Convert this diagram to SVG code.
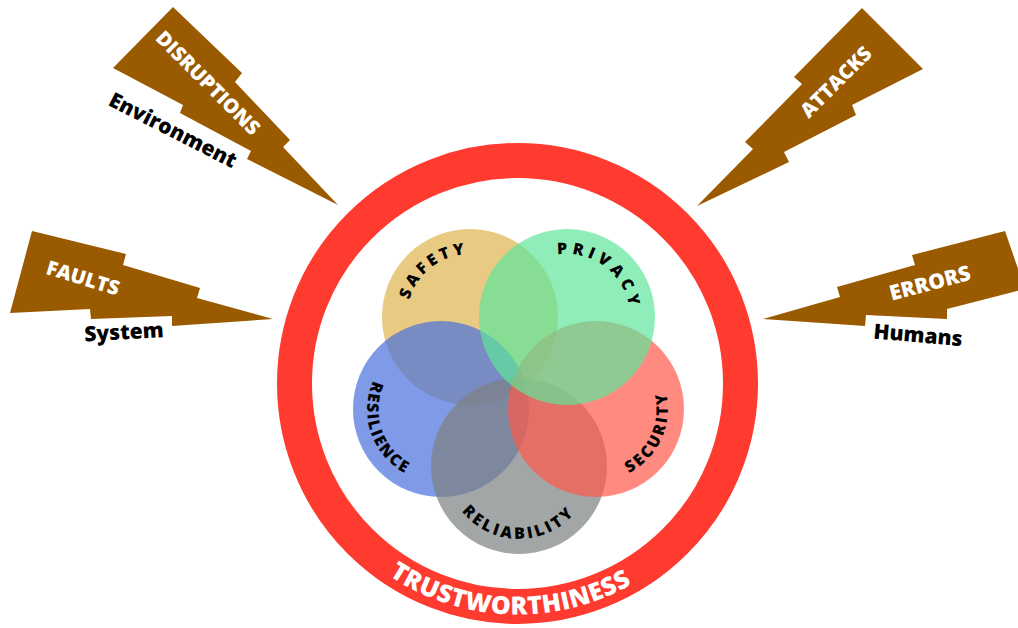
<svg xmlns="http://www.w3.org/2000/svg" width="1018" height="628" viewBox="0 0 1018 628">
<style>
.bolt{fill:#9A5A00}
.wt{fill:#FFFFFF;font-family:"Open Sans","Liberation Sans",sans-serif;font-weight:800;text-anchor:middle}
.bt{fill:#000000;font-family:"Open Sans","Liberation Sans",sans-serif;font-weight:800;text-anchor:middle}
.lbl{fill:#000000;font-family:"Open Sans","Liberation Sans",sans-serif;font-weight:800;font-size:16px;text-anchor:middle}
.venn{opacity:0.7}
</style>
<defs>
<path id="pSafety" d="M 407.6 325.8 A 63 63 0 0 1 493.6 258.6"/>
<path id="pPrivacy" d="M 542.9 258.8 A 63 63 0 0 1 629.5 325.2"/>
<path id="pResilience" d="M 385.5 361.6 A 72 72 0 0 0 427.7 480.8"/>
<path id="pSecurity" d="M 603.5 480.6 A 72 72 0 0 0 654.2 366.7"/>
<path id="pReliability" d="M 455.5 501.9 A 73 73 0 0 0 581.9 503.0"/>
<path id="pTrust" d="M 340.5 532 A 231 231 0 0 0 683.7 544"/>
</defs>
<rect width="1018" height="628" fill="#FFFFFF"/>

<g id="ring">
<circle cx="517.5" cy="383.5" r="223" fill="none" stroke="#FF3A2F" stroke-width="35"/>
<text class="wt" font-size="25" letter-spacing="0.5"><textPath href="#pTrust" startOffset="50%">TRUSTWORTHINESS</textPath></text>
</g>

<g id="circles">
<g id="safety">
<circle class="venn" cx="470" cy="317" r="88" fill="#DEB34F"/>
</g>
<g id="resilience">
<circle class="venn" cx="441" cy="409" r="88" fill="#4870DE"/>
</g>
<g id="reliability">
<circle class="venn" cx="519" cy="466" r="88" fill="#7C8080"/>
</g>
<g id="security">
<circle class="venn" cx="596" cy="409" r="88" fill="#FF584A"/>
</g>
<g id="privacy">
<circle class="venn" cx="567" cy="317" r="88" fill="#5EE59A"/>
</g>
</g>

<g id="circle-labels">
<text class="lbl" letter-spacing="3.5"><textPath href="#pSafety" startOffset="50%">SAFETY</textPath></text>
<text class="lbl" letter-spacing="4.5"><textPath href="#pPrivacy" startOffset="50%">PRIVACY</textPath></text>
<text class="lbl" letter-spacing="1.8"><textPath href="#pResilience" startOffset="50%">RESILIENCE</textPath></text>
<text class="lbl" letter-spacing="2.5"><textPath href="#pSecurity" startOffset="50%">SECURITY</textPath></text>
<text class="lbl" letter-spacing="3"><textPath href="#pReliability" startOffset="50%">RELIABILITY</textPath></text>
</g>

<g id="disruptions">
<polygon class="bolt" points="173,7 242,73 235,82 290,140 283,147 338,205 247,159 251,151 180,113 183,105 113,68"/>
<text class="wt" font-size="20" transform="translate(208,83) rotate(45)" dy="0.35em">DISRUPTIONS</text>
<text class="bt" font-size="21" transform="translate(173,130) rotate(27)" dy="0.35em">Environment</text>
</g>

<g id="attacks">
<polygon class="bolt" points="862,8 923,69 852,105 856,115 784,152 789,162 697,206 753,149 745,142 802,84 794,77"/>
<text class="wt" font-size="20" transform="translate(836,82) rotate(-45)" dy="0.35em">ATTACKS</text>
</g>

<g id="faults">
<polygon class="bolt" points="32,231 126,254 123,265 200,288 197,298 273,319 172,326 172,316 91,319 90,309 10,313"/>
<text class="wt" font-size="20" transform="translate(83,278) rotate(17)" dy="0.35em">FAULTS</text>
<text class="bt" font-size="21" transform="translate(124,332) rotate(-3)" dy="0.35em">System</text>
</g>

<g id="errors">
<polygon class="bolt" points="763,319 840,297 837,287 915,265 912,255 1005,231 1025,289 947,309 947,319 866,315 865,326"/>
<text class="wt" font-size="21" transform="translate(930,283) rotate(-15)" dy="0.35em">ERRORS</text>
<text class="bt" font-size="21" transform="translate(918,335) rotate(5)" dy="0.35em">Humans</text>
</g>

<g id="connectors"/>
</svg>
